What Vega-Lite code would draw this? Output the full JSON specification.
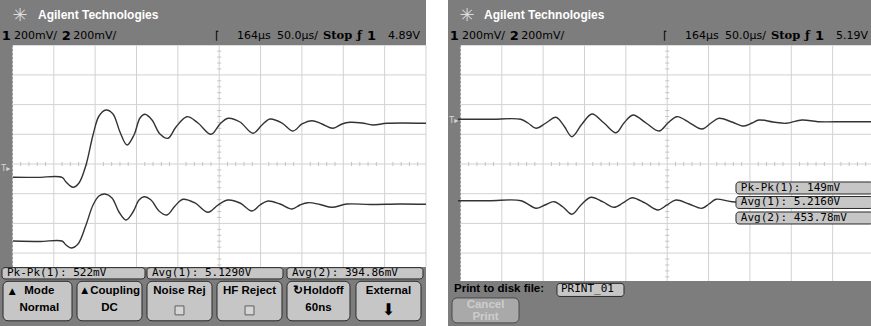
{
 "$schema": "https://vega.github.io/schema/vega-lite/v6.json",
 "padding": 0,
 "spacing": 19,
 "background": "white",
 "config": {"view": {"fill": "#7d7d7d", "stroke": null}},
 "datasets": {
  "ltr": [
   {"s":"1","x":0.014,"y":-0.448},{"s":"1","x":0.6,"y":-0.452},{"s":"1","x":1.199,"y":-0.448},{"s":"1","x":1.296,"y":-0.606},{"s":"1","x":1.465,"y":-0.785},{"s":"1","x":1.610,"y":-0.640},{"s":"1","x":1.779,"y":-0.034},{"s":"1","x":1.949,"y":0.976},{"s":"1","x":2.094,"y":1.616},{"s":"1","x":2.263,"y":1.818},{"s":"1","x":2.432,"y":1.684},{"s":"1","x":2.601,"y":1.077},{"s":"1","x":2.771,"y":0.640},{"s":"1","x":2.940,"y":0.976},{"s":"1","x":3.085,"y":1.549},{"s":"1","x":3.206,"y":1.673},{"s":"1","x":3.375,"y":1.481},{"s":"1","x":3.568,"y":1.010},{"s":"1","x":3.762,"y":0.865},{"s":"1","x":3.955,"y":1.246},{"s":"1","x":4.221,"y":1.593},{"s":"1","x":4.487,"y":1.380},{"s":"1","x":4.802,"y":1.0},{"s":"1","x":5.019,"y":1.347},{"s":"1","x":5.213,"y":1.539},{"s":"1","x":5.503,"y":1.414},{"s":"1","x":5.817,"y":1.034},{"s":"1","x":6.035,"y":1.313},{"s":"1","x":6.228,"y":1.515},{"s":"1","x":6.518,"y":1.380},{"s":"1","x":6.784,"y":1.111},{"s":"1","x":7.002,"y":1.347},{"s":"1","x":7.244,"y":1.458},{"s":"1","x":7.485,"y":1.347},{"s":"1","x":7.751,"y":1.202},{"s":"1","x":7.969,"y":1.347},{"s":"1","x":8.162,"y":1.404},{"s":"1","x":8.453,"y":1.380},{"s":"1","x":8.718,"y":1.313},{"s":"1","x":9.057,"y":1.370},{"s":"1","x":10.0,"y":1.370},
   {"s":"2","x":0.014,"y":-2.593},{"s":"2","x":0.667,"y":-2.609},{"s":"2","x":1.199,"y":-2.593},{"s":"2","x":1.296,"y":-2.727},{"s":"2","x":1.417,"y":-2.828},{"s":"2","x":1.586,"y":-2.694},{"s":"2","x":1.779,"y":-2.054},{"s":"2","x":1.949,"y":-1.380},{"s":"2","x":2.094,"y":-1.077},{"s":"2","x":2.239,"y":-1.010},{"s":"2","x":2.408,"y":-1.145},{"s":"2","x":2.577,"y":-1.616},{"s":"2","x":2.746,"y":-1.886},{"s":"2","x":2.916,"y":-1.616},{"s":"2","x":3.061,"y":-1.212},{"s":"2","x":3.182,"y":-1.101},{"s":"2","x":3.351,"y":-1.212},{"s":"2","x":3.544,"y":-1.582},{"s":"2","x":3.738,"y":-1.717},{"s":"2","x":3.931,"y":-1.414},{"s":"2","x":4.125,"y":-1.189},{"s":"2","x":4.415,"y":-1.313},{"s":"2","x":4.729,"y":-1.626},{"s":"2","x":4.971,"y":-1.380},{"s":"2","x":5.213,"y":-1.212},{"s":"2","x":5.503,"y":-1.313},{"s":"2","x":5.793,"y":-1.582},{"s":"2","x":5.986,"y":-1.380},{"s":"2","x":6.180,"y":-1.246},{"s":"2","x":6.470,"y":-1.347},{"s":"2","x":6.760,"y":-1.515},{"s":"2","x":6.953,"y":-1.380},{"s":"2","x":7.147,"y":-1.303},{"s":"2","x":7.437,"y":-1.364},{"s":"2","x":7.727,"y":-1.458},{"s":"2","x":8.090,"y":-1.347},{"s":"2","x":8.646,"y":-1.364},{"s":"2","x":9.371,"y":-1.347},{"s":"2","x":10.0,"y":-1.357}
  ],
  "rtr": [
   {"s":"1","x":-0.058,"y":1.505},{"s":"1","x":0.7,"y":1.505},{"s":"1","x":1.458,"y":1.505},{"s":"1","x":1.634,"y":1.380},{"s":"1","x":1.828,"y":1.202},{"s":"1","x":2.069,"y":1.380},{"s":"1","x":2.311,"y":1.572},{"s":"1","x":2.505,"y":1.279},{"s":"1","x":2.698,"y":0.919},{"s":"1","x":2.940,"y":1.347},{"s":"1","x":3.182,"y":1.684},{"s":"1","x":3.472,"y":1.380},{"s":"1","x":3.762,"y":1.054},{"s":"1","x":3.955,"y":1.380},{"s":"1","x":4.173,"y":1.650},{"s":"1","x":4.487,"y":1.380},{"s":"1","x":4.802,"y":1.111},{"s":"1","x":5.019,"y":1.380},{"s":"1","x":5.237,"y":1.593},{"s":"1","x":5.551,"y":1.380},{"s":"1","x":5.841,"y":1.178},{"s":"1","x":6.059,"y":1.380},{"s":"1","x":6.252,"y":1.539},{"s":"1","x":6.567,"y":1.414},{"s":"1","x":6.857,"y":1.279},{"s":"1","x":7.050,"y":1.380},{"s":"1","x":7.219,"y":1.481},{"s":"1","x":7.558,"y":1.414},{"s":"1","x":7.872,"y":1.370},{"s":"1","x":8.259,"y":1.481},{"s":"1","x":8.646,"y":1.424},{"s":"1","x":9.3,"y":1.424},{"s":"1","x":10.0,"y":1.424},
   {"s":"2","x":-0.058,"y":-1.236},{"s":"2","x":0.7,"y":-1.236},{"s":"2","x":1.465,"y":-1.236},{"s":"2","x":1.828,"y":-1.492},{"s":"2","x":2.045,"y":-1.380},{"s":"2","x":2.263,"y":-1.269},{"s":"2","x":2.480,"y":-1.448},{"s":"2","x":2.698,"y":-1.694},{"s":"2","x":2.916,"y":-1.380},{"s":"2","x":3.157,"y":-1.121},{"s":"2","x":3.448,"y":-1.279},{"s":"2","x":3.714,"y":-1.458},{"s":"2","x":3.931,"y":-1.313},{"s":"2","x":4.149,"y":-1.135},{"s":"2","x":4.463,"y":-1.313},{"s":"2","x":4.777,"y":-1.549},{"s":"2","x":4.995,"y":-1.380},{"s":"2","x":5.213,"y":-1.212},{"s":"2","x":5.527,"y":-1.347},{"s":"2","x":5.841,"y":-1.492},{"s":"2","x":6.010,"y":-1.347},{"s":"2","x":6.180,"y":-1.189},{"s":"2","x":6.567,"y":-1.269},{"s":"2","x":8.0,"y":-1.269},{"s":"2","x":10.0,"y":-1.269}
  ],
  "gv": [{"t":1},{"t":2},{"t":3},{"t":4},{"t":5},{"t":6},{"t":7},{"t":8},{"t":9},{"t":10}],
  "gh": [{"t":-3},{"t":-2},{"t":-1},{"t":0},{"t":1},{"t":2},{"t":3}],
  "tx": [{"t":0.2},{"t":0.4},{"t":0.6},{"t":0.8},{"t":1.2},{"t":1.4},{"t":1.6},{"t":1.8},{"t":2.2},{"t":2.4},{"t":2.6},{"t":2.8},{"t":3.2},{"t":3.4},{"t":3.6},{"t":3.8},{"t":4.2},{"t":4.4},{"t":4.6},{"t":4.8},{"t":5.2},{"t":5.4},{"t":5.6},{"t":5.8},{"t":6.2},{"t":6.4},{"t":6.6},{"t":6.8},{"t":7.2},{"t":7.4},{"t":7.6},{"t":7.8},{"t":8.2},{"t":8.4},{"t":8.6},{"t":8.8},{"t":9.2},{"t":9.4},{"t":9.6},{"t":9.8}],
  "ty": [{"t":-3.8},{"t":-3.6},{"t":-3.4},{"t":-3.2},{"t":-2.8},{"t":-2.6},{"t":-2.4},{"t":-2.2},{"t":-1.8},{"t":-1.6},{"t":-1.4},{"t":-1.2},{"t":-0.8},{"t":-0.6},{"t":-0.4},{"t":-0.2},{"t":0.2},{"t":0.4},{"t":0.6},{"t":0.8},{"t":1.2},{"t":1.4},{"t":1.6},{"t":1.8},{"t":2.2},{"t":2.4},{"t":2.6},{"t":2.8},{"t":3.2},{"t":3.4},{"t":3.6},{"t":3.8}],
  "hdrN": [{"label":"200mV/","x":0.04},{"label":"200mV/","x":1.47},{"label":"164µs","x":5.43},{"label":"50.0µs/","x":6.397}],
  "hdrB": [{"label":"1","x":-0.26},{"label":"2","x":1.19},{"label":"1","x":8.573}],
  "lmeas": [{"x0":-0.252,"x1":3.206,"lx":-0.131,"label":"Pk-Pk(1): 522mV"},{"x0":3.254,"x1":6.542,"lx":3.375,"label":"Avg(1): 5.1290V"},{"x0":6.639,"x1":9.927,"lx":6.76,"label":"Avg(2): 394.86mV"}],
  "lbtn": [{"x0":-0.227,"x1":1.441,"xc":0.65,"l1":"Mode","l2":"Normal"},{"x0":1.562,"x1":3.133,"xc":2.347,"l1":"▲Coupling","l2":"DC"},{"x0":3.254,"x1":4.826,"xc":4.04,"l1":"Noise Rej","l2":""},{"x0":4.947,"x1":6.518,"xc":5.733,"l1":"HF Reject","l2":""},{"x0":6.639,"x1":8.162,"xc":7.4,"l1":"↻Holdoff","l2":"60ns"},{"x0":8.307,"x1":9.879,"xc":9.093,"l1":"External","l2":""}],
  "rmeas": [{"y0":-0.606,"y1":-1.010,"yc":-0.808,"label":"Pk-Pk(1): 149mV"},{"y0":-1.094,"y1":-1.498,"yc":-1.296,"label":"Avg(1): 5.2160V"},{"y0":-1.616,"y1":-2.020,"yc":-1.818,"label":"Avg(2): 453.78mV"}]
 },
 "hconcat": [
  {
   "width": 426, "height": 326,
   "layer": [
    {"data":{"values":[{}]},"mark":{"type":"rect","color":"#ffffff"},
     "encoding":{"x":{"datum":0,"type":"quantitative","scale":{"domain":[-0.3,10],"nice":false,"zero":false},"axis":null},"x2":{"datum":10},"y":{"datum":4,"type":"quantitative","scale":{"domain":[-5.455,5.522],"nice":false,"zero":false},"axis":null},"y2":{"datum":-3.47}}},
    {"data":{"name":"gv"},"mark":{"type":"rule","color":"#d2d2d2","strokeWidth":1},
     "encoding":{"x":{"field":"t","type":"quantitative"},"y":{"datum":4,"type":"quantitative"},"y2":{"datum":-3.47}}},
    {"data":{"name":"gh"},"mark":{"type":"rule","color":"#d2d2d2","strokeWidth":1},
     "encoding":{"y":{"field":"t","type":"quantitative"},"x":{"datum":0,"type":"quantitative"},"x2":{"datum":10}}},
    {"data":{"values":[{}]},"mark":{"type":"rule","color":"#8c8c8c","strokeWidth":1,"strokeDash":[2,2]},
     "encoding":{"x":{"datum":0,"type":"quantitative"},"y":{"datum":4,"type":"quantitative"},"y2":{"datum":-3.47}}},
    {"data":{"name":"tx"},"mark":{"type":"rule","color":"#c4c4c4","strokeWidth":1},
     "encoding":{"x":{"field":"t","type":"quantitative"},"y":{"datum":-0.07,"type":"quantitative"},"y2":{"datum":0.07}}},
    {"data":{"name":"ty"},"transform":[{"filter":"datum.t > -3.47"}],"mark":{"type":"rule","color":"#c4c4c4","strokeWidth":1},
     "encoding":{"y":{"field":"t","type":"quantitative"},"x":{"datum":4.95,"type":"quantitative"},"x2":{"datum":5.05}}},
    {"data":{"name":"ltr"},"mark":{"type":"line","color":"#333333","strokeWidth":1.4,"interpolate":"catmull-rom"},
     "encoding":{"x":{"field":"x","type":"quantitative"},"y":{"field":"y","type":"quantitative"},"detail":{"field":"s"},"order":{"field":"x"}}},
    {"data":{"values":[{"label":"Agilent Technologies"}]},"mark":{"type":"text","align":"left","baseline":"middle","font":"Liberation Sans","fontWeight":"bold","fontSize":12,"color":"#ffffff"},
     "encoding":{"x":{"datum":0.619,"type":"quantitative"},"y":{"datum":5.02,"type":"quantitative"},"text":{"field":"label"}}},
    {"data":{"values":[{"label":"✳"}]},"mark":{"type":"text","align":"center","baseline":"middle","font":"DejaVu Sans","fontSize":18,"color":"#dcdcdc"},
     "encoding":{"x":{"datum":0.184,"type":"quantitative"},"y":{"datum":5.0,"type":"quantitative"},"text":{"field":"label"}}},
    {"data":{"name":"hdrN"},"mark":{"type":"text","align":"left","baseline":"middle","font":"DejaVu Sans","fontSize":11,"color":"#000000"},
     "encoding":{"x":{"field":"x","type":"quantitative"},"y":{"datum":4.32,"type":"quantitative"},"text":{"field":"label"}}},
    {"data":{"name":"hdrB"},"mark":{"type":"text","align":"left","baseline":"middle","font":"DejaVu Sans","fontWeight":"bold","fontSize":13,"color":"#000000"},
     "encoding":{"x":{"field":"x","type":"quantitative"},"y":{"datum":4.32,"type":"quantitative"},"text":{"field":"label"}}},
    {"data":{"values":[{"label":"Stop","x":7.509},{"label":"ƒ","x":8.331}]},"mark":{"type":"text","align":"left","baseline":"middle","font":"DejaVu Serif","fontWeight":"bold","fontSize":11.5,"color":"#000000"},
     "encoding":{"x":{"field":"x","type":"quantitative"},"y":{"datum":4.32,"type":"quantitative"},"text":{"field":"label"}}},
    {"data":{"values":[{"label":"⌈","x":4.9},{"label":"4.89V","x":9.081}]},"mark":{"type":"text","align":"left","baseline":"middle","font":"DejaVu Sans","fontSize":11,"color":"#000000"},
     "encoding":{"x":{"field":"x","type":"quantitative"},"y":{"datum":4.32,"type":"quantitative"},"text":{"field":"label"}}},
    {"data":{"values":[{"label":"T▸"}]},"mark":{"type":"text","align":"left","baseline":"middle","font":"DejaVu Sans","fontSize":8,"color":"#d8d8d8"},
     "encoding":{"x":{"datum":-0.27,"type":"quantitative"},"y":{"datum":-0.18,"type":"quantitative"},"text":{"field":"label"}}},
    {"data":{"name":"lmeas"},"mark":{"type":"rect","fill":"#c6c6c6","stroke":"#2a2a2a","strokeWidth":1,"cornerRadius":3},
     "encoding":{"x":{"field":"x0","type":"quantitative"},"x2":{"field":"x1"},"y":{"datum":-3.49,"type":"quantitative"},"y2":{"datum":-3.87}}},
    {"data":{"name":"lmeas"},"mark":{"type":"text","align":"left","baseline":"middle","font":"DejaVu Sans Mono","fontSize":11,"color":"#000000"},
     "encoding":{"x":{"field":"lx","type":"quantitative"},"y":{"datum":-3.68,"type":"quantitative"},"text":{"field":"label"}}},
    {"data":{"name":"lbtn"},"mark":{"type":"rect","fill":"#c6c6c6","stroke":"#2a2a2a","strokeWidth":1,"cornerRadius":5},
     "encoding":{"x":{"field":"x0","type":"quantitative"},"x2":{"field":"x1"},"y":{"datum":-3.95,"type":"quantitative"},"y2":{"datum":-5.28}}},
    {"data":{"name":"lbtn"},"mark":{"type":"text","align":"center","baseline":"middle","font":"Liberation Sans","fontWeight":"bold","fontSize":11.5,"color":"#000000"},
     "encoding":{"x":{"field":"xc","type":"quantitative"},"y":{"datum":-4.27,"type":"quantitative"},"text":{"field":"l1"}}},
    {"data":{"name":"lbtn"},"mark":{"type":"text","align":"center","baseline":"middle","font":"Liberation Sans","fontWeight":"bold","fontSize":11.5,"color":"#000000"},
     "encoding":{"x":{"field":"xc","type":"quantitative"},"y":{"datum":-4.86,"type":"quantitative"},"text":{"field":"l2"}}},
    {"data":{"values":[{"label":"▲"}]},"mark":{"type":"text","align":"left","baseline":"middle","font":"DejaVu Sans","fontSize":9,"color":"#000000"},
     "encoding":{"x":{"datum":-0.09,"type":"quantitative"},"y":{"datum":-4.27,"type":"quantitative"},"text":{"field":"label"}}},
    {"data":{"values":[{"x":4.04},{"x":5.733}]},"mark":{"type":"square","filled":true,"fill":"#dedede","stroke":"#333333","strokeWidth":1,"size":80},
     "encoding":{"x":{"field":"x","type":"quantitative"},"y":{"datum":-4.93,"type":"quantitative"}}},
    {"data":{"values":[{"label":"⬇"}]},"mark":{"type":"text","align":"center","baseline":"middle","font":"DejaVu Sans","fontSize":16,"color":"#000000"},
     "encoding":{"x":{"datum":9.093,"type":"quantitative"},"y":{"datum":-4.9,"type":"quantitative"},"text":{"field":"label"}}}
   ]
  },
  {
   "width": 426, "height": 326,
   "layer": [
    {"data":{"values":[{}]},"mark":{"type":"rect","color":"#ffffff"},
     "encoding":{"x":{"datum":0,"type":"quantitative","scale":{"domain":[-0.3,10],"nice":false,"zero":false},"axis":null},"x2":{"datum":10},"y":{"datum":4,"type":"quantitative","scale":{"domain":[-5.455,5.522],"nice":false,"zero":false},"axis":null},"y2":{"datum":-3.94}}},
    {"data":{"name":"gv"},"mark":{"type":"rule","color":"#d2d2d2","strokeWidth":1},
     "encoding":{"x":{"field":"t","type":"quantitative"},"y":{"datum":4,"type":"quantitative"},"y2":{"datum":-3.94}}},
    {"data":{"name":"gh"},"mark":{"type":"rule","color":"#d2d2d2","strokeWidth":1},
     "encoding":{"y":{"field":"t","type":"quantitative"},"x":{"datum":0,"type":"quantitative"},"x2":{"datum":10}}},
    {"data":{"values":[{}]},"mark":{"type":"rule","color":"#8c8c8c","strokeWidth":1,"strokeDash":[2,2]},
     "encoding":{"x":{"datum":0,"type":"quantitative"},"y":{"datum":4,"type":"quantitative"},"y2":{"datum":-3.94}}},
    {"data":{"name":"tx"},"mark":{"type":"rule","color":"#c4c4c4","strokeWidth":1},
     "encoding":{"x":{"field":"t","type":"quantitative"},"y":{"datum":-0.07,"type":"quantitative"},"y2":{"datum":0.07}}},
    {"data":{"name":"ty"},"mark":{"type":"rule","color":"#c4c4c4","strokeWidth":1},
     "encoding":{"y":{"field":"t","type":"quantitative"},"x":{"datum":4.95,"type":"quantitative"},"x2":{"datum":5.05}}},
    {"data":{"name":"rtr"},"mark":{"type":"line","color":"#333333","strokeWidth":1.4,"interpolate":"catmull-rom"},
     "encoding":{"x":{"field":"x","type":"quantitative"},"y":{"field":"y","type":"quantitative"},"detail":{"field":"s"},"order":{"field":"x"}}},
    {"data":{"values":[{"label":"Agilent Technologies"}]},"mark":{"type":"text","align":"left","baseline":"middle","font":"Liberation Sans","fontWeight":"bold","fontSize":12,"color":"#ffffff"},
     "encoding":{"x":{"datum":0.57,"type":"quantitative"},"y":{"datum":5.02,"type":"quantitative"},"text":{"field":"label"}}},
    {"data":{"values":[{"label":"✳"}]},"mark":{"type":"text","align":"center","baseline":"middle","font":"DejaVu Sans","fontSize":18,"color":"#dcdcdc"},
     "encoding":{"x":{"datum":0.16,"type":"quantitative"},"y":{"datum":5.0,"type":"quantitative"},"text":{"field":"label"}}},
    {"data":{"name":"hdrN"},"mark":{"type":"text","align":"left","baseline":"middle","font":"DejaVu Sans","fontSize":11,"color":"#000000"},
     "encoding":{"x":{"field":"x","type":"quantitative"},"y":{"datum":4.32,"type":"quantitative"},"text":{"field":"label"}}},
    {"data":{"name":"hdrB"},"mark":{"type":"text","align":"left","baseline":"middle","font":"DejaVu Sans","fontWeight":"bold","fontSize":13,"color":"#000000"},
     "encoding":{"x":{"field":"x","type":"quantitative"},"y":{"datum":4.32,"type":"quantitative"},"text":{"field":"label"}}},
    {"data":{"values":[{"label":"Stop","x":7.509},{"label":"ƒ","x":8.331}]},"mark":{"type":"text","align":"left","baseline":"middle","font":"DejaVu Serif","fontWeight":"bold","fontSize":11.5,"color":"#000000"},
     "encoding":{"x":{"field":"x","type":"quantitative"},"y":{"datum":4.32,"type":"quantitative"},"text":{"field":"label"}}},
    {"data":{"values":[{"label":"⌈","x":4.9},{"label":"5.19V","x":9.081}]},"mark":{"type":"text","align":"left","baseline":"middle","font":"DejaVu Sans","fontSize":11,"color":"#000000"},
     "encoding":{"x":{"field":"x","type":"quantitative"},"y":{"datum":4.32,"type":"quantitative"},"text":{"field":"label"}}},
    {"data":{"values":[{"label":"T▸"}]},"mark":{"type":"text","align":"left","baseline":"middle","font":"DejaVu Sans","fontSize":8,"color":"#d8d8d8"},
     "encoding":{"x":{"datum":-0.27,"type":"quantitative"},"y":{"datum":1.45,"type":"quantitative"},"text":{"field":"label"}}},
    {"data":{"name":"rmeas"},"mark":{"type":"rect","fill":"#c6c6c6","stroke":"#2a2a2a","strokeWidth":1,"cornerRadius":3},
     "encoding":{"x":{"datum":6.663,"type":"quantitative"},"x2":{"datum":9.98},"y":{"field":"y0","type":"quantitative"},"y2":{"field":"y1"}}},
    {"data":{"name":"rmeas"},"mark":{"type":"text","align":"left","baseline":"middle","font":"DejaVu Sans Mono","fontSize":11,"color":"#000000"},
     "encoding":{"x":{"datum":6.78,"type":"quantitative"},"y":{"field":"yc","type":"quantitative"},"text":{"field":"label"}}},
    {"data":{"values":[{"label":"Print to disk file:"}]},"mark":{"type":"text","align":"left","baseline":"middle","font":"Liberation Sans","fontWeight":"bold","fontSize":11.5,"color":"#000000"},
     "encoding":{"x":{"datum":-0.155,"type":"quantitative"},"y":{"datum":-4.22,"type":"quantitative"},"text":{"field":"label"}}},
    {"data":{"values":[{}]},"mark":{"type":"rect","fill":"#c6c6c6","stroke":"#2a2a2a","strokeWidth":1,"cornerRadius":3},
     "encoding":{"x":{"datum":2.335,"type":"quantitative"},"x2":{"datum":3.955},"y":{"datum":-4.02,"type":"quantitative"},"y2":{"datum":-4.46}}},
    {"data":{"values":[{"label":"PRINT_01"}]},"mark":{"type":"text","align":"left","baseline":"middle","font":"DejaVu Sans Mono","fontSize":11,"color":"#000000"},
     "encoding":{"x":{"datum":2.43,"type":"quantitative"},"y":{"datum":-4.22,"type":"quantitative"},"text":{"field":"label"}}},
    {"data":{"values":[{}]},"mark":{"type":"rect","fill":"#a9a9a9","stroke":"#4a4a4a","strokeWidth":1,"cornerRadius":5},
     "encoding":{"x":{"datum":-0.203,"type":"quantitative"},"x2":{"datum":1.417},"y":{"datum":-4.51,"type":"quantitative"},"y2":{"datum":-5.35}}},
    {"data":{"values":[{"label":"Cancel","y":-4.75},{"label":"Print","y":-5.15}]},"mark":{"type":"text","align":"center","baseline":"middle","font":"Liberation Sans","fontWeight":"bold","fontSize":11.5,"color":"#cdcdcd"},
     "encoding":{"x":{"datum":0.607,"type":"quantitative"},"y":{"field":"y","type":"quantitative"},"text":{"field":"label"}}}
   ]
  }
 ]
}
